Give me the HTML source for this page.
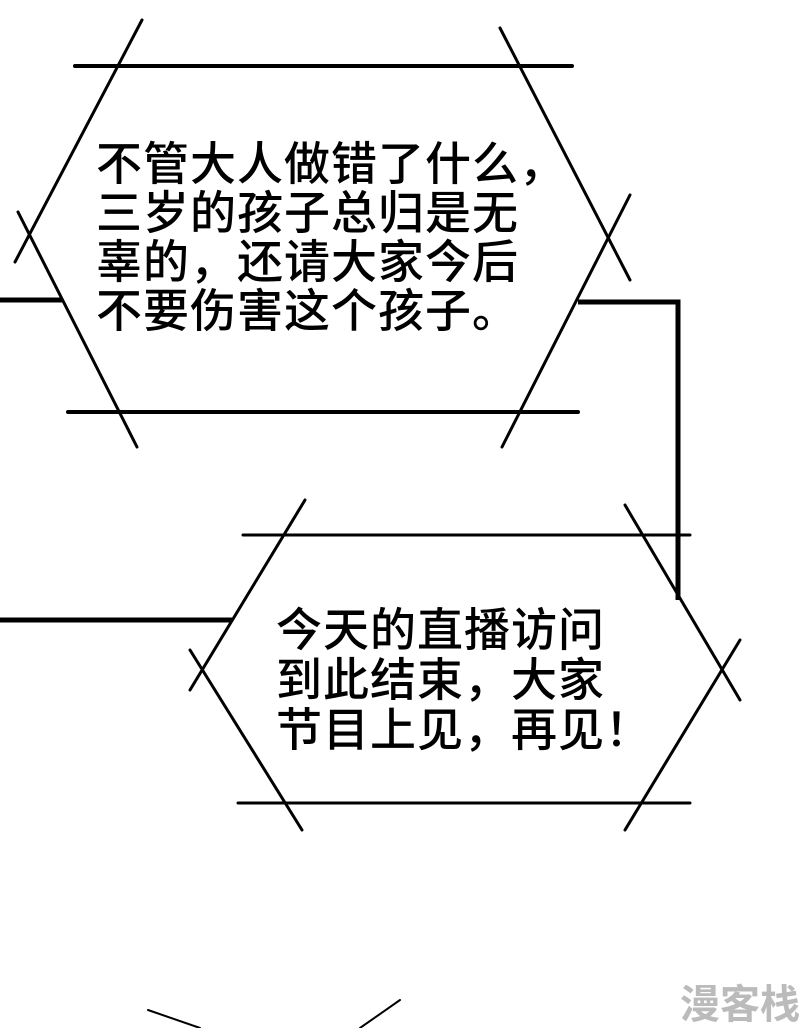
<!DOCTYPE html>
<html><head><meta charset="utf-8"><style>
body{margin:0;background:#fff;}
#c{position:relative;width:800px;height:1028px;overflow:hidden;background:#fff;}
svg{position:absolute;left:0;top:0;}
.t{position:absolute;font-family:"Liberation Sans","Noto Sans CJK SC",sans-serif;font-size:46px;line-height:49px;color:#000;white-space:pre;letter-spacing:1px;font-weight:500;}
.w{position:absolute;left:680px;top:972px;font-family:"Liberation Sans","Noto Sans CJK SC",sans-serif;font-size:40px;font-weight:bold;color:#bbb;}
</style></head><body><div id="c">
<svg width="800" height="1028" viewBox="0 0 800 1028">
<g stroke="#000" fill="none" stroke-linecap="round">
<line x1="75" y1="66" x2="572" y2="66" stroke-width="4"/>
<line x1="68" y1="412" x2="578" y2="412" stroke-width="4"/>
<line x1="142" y1="20" x2="15" y2="262" stroke-width="3"/>
<line x1="18" y1="212" x2="137" y2="447" stroke-width="3"/>
<line x1="500" y1="28" x2="630" y2="280" stroke-width="3"/>
<line x1="630" y1="195" x2="502" y2="447" stroke-width="3"/>
<line x1="243" y1="535" x2="690" y2="535" stroke-width="3"/>
<line x1="238" y1="803" x2="690" y2="803" stroke-width="3"/>
<line x1="305" y1="500" x2="190" y2="690" stroke-width="3"/>
<line x1="190" y1="650" x2="302" y2="830" stroke-width="3"/>
<line x1="625" y1="505" x2="740" y2="700" stroke-width="3"/>
<line x1="740" y1="640" x2="625" y2="830" stroke-width="3"/>
<path d="M148 1010 L200 1028 M400 1000 L360 1028" stroke-width="2"/>
</g>
<g stroke="#000" fill="none" stroke-width="5">
<line x1="0" y1="300" x2="62" y2="300"/>
<path d="M578 302 H678 V600"/>
<line x1="0" y1="620" x2="232" y2="620"/>
</g>
</svg>
<div class="t" style="left:96px;top:140px;">不管大人做错了什么，
三岁的孩子总归是无
辜的，还请大家今后
不要伤害这个孩子。</div>
<div class="t" style="left:276px;top:605px;line-height:50px;">今天的直播访问
到此结束，大家
节目上见，再见！</div>
<div class="w">漫客栈</div>
</div></body></html>
